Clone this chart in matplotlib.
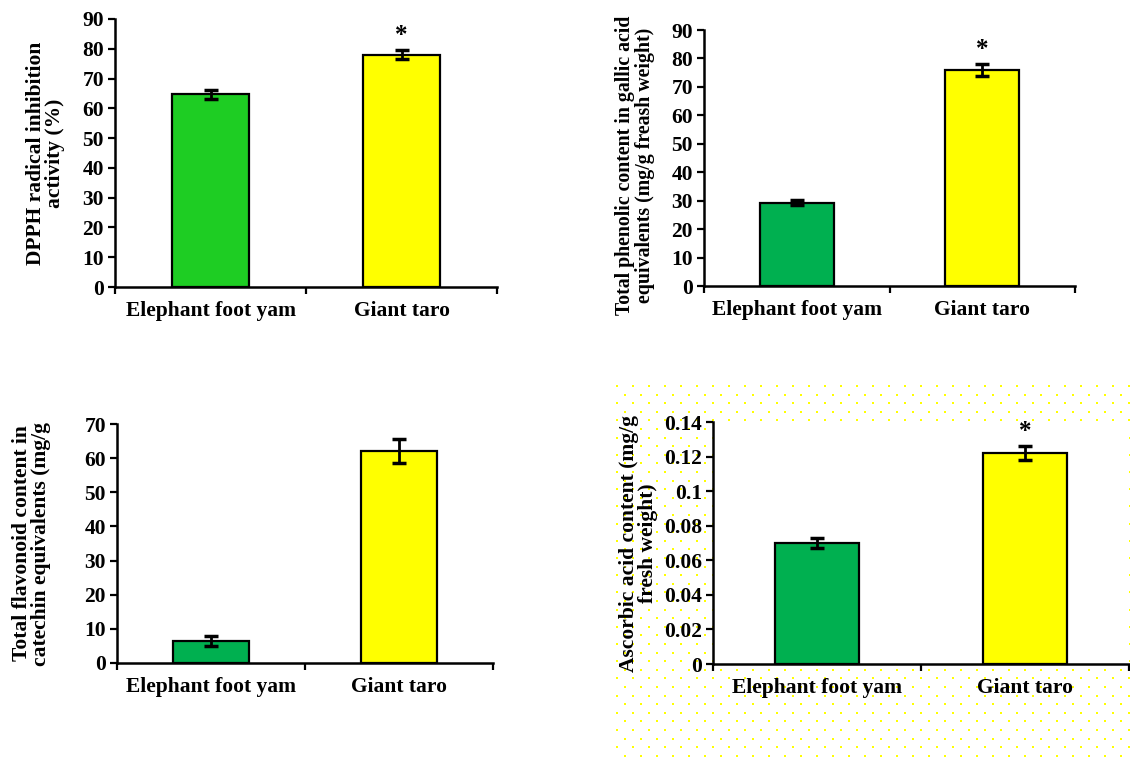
import matplotlib
matplotlib.use("Agg")
import matplotlib.pyplot as plt
import numpy as np

plt.rcParams['font.family'] = ['Liberation Serif', 'DejaVu Serif']
plt.rcParams['font.weight'] = 'bold'

categories = ["Elephant foot yam", "Giant taro"]

# values
dpph_mean = [64.7, 78.0]
dpph_err = [1.5, 1.5]
phenolic_mean = [29.3, 76.0]
phenolic_err = [0.9, 2.2]
flavonoid_mean = [6.5, 62.0]
flavonoid_err = [1.5, 3.5]
ascorbic_mean = [0.070, 0.122]
ascorbic_err = [0.003, 0.004]

W, H = 1130, 761
fig = plt.figure(figsize=(W / 100, H / 100), dpi=100)

# dotted yellow background behind the fourth chart (decoration only)
bg_ax = fig.add_axes([0, 0, 1, 1], zorder=-5)
bg_ax.set_xlim(0, W)
bg_ax.set_ylim(H, 0)
bg_ax.axis('off')
ys = np.arange(386, H, 8.6)
for i, yy in enumerate(ys):
    xs = np.arange(617 + (8 if i % 2 else 0), W, 16)
    bg_ax.scatter(xs, np.full(len(xs), yy), s=2.6, color='#ffff00', marker='s', linewidths=0)


def px_axes(left, right, top, bottom):
    return fig.add_axes([left / W, 1 - bottom / H, (right - left) / W, (bottom - top) / H])


def draw_panel(ax, means, errs, colors, ylim, yticks, yticklabels, ylabel, star, star_off,
               labelpad, labelsize=15.5):
    x = list(range(len(categories)))
    ax.bar(x, means, width=0.4, color=colors, edgecolor='black', linewidth=1.6, zorder=2)
    ax.errorbar(x, means, yerr=errs, fmt='none', ecolor='black', elinewidth=2,
                capsize=5, capthick=2.5, zorder=3)
    ax.set_xlim(-0.5, 1.5)
    ax.set_ylim(*ylim)
    ax.set_yticks(yticks)
    ax.set_yticklabels(yticklabels)
    ax.set_xticks([-0.5, 0.5, 1.5])
    ax.set_xticklabels([])
    ax.set_xticks(x, minor=True)
    ax.set_xticklabels(categories, minor=True)
    ax.tick_params(axis='x', which='minor', length=0, pad=10, labelsize=15.5)
    ax.tick_params(axis='x', which='major', direction='out', length=5, width=1.6)
    ax.tick_params(axis='y', direction='out', length=5, width=1.6, labelsize=15.5, pad=3)
    for s in ['top', 'right']:
        ax.spines[s].set_visible(False)
    for s in ['left', 'bottom']:
        ax.spines[s].set_linewidth(1.8)
    ax.set_ylabel(ylabel, fontsize=labelsize, fontweight='bold', labelpad=labelpad, linespacing=0.95)
    ax.set_facecolor('white')
    if star:
        ax.text(1, means[1] + errs[1] + star_off, '*', ha='center', va='bottom',
                fontsize=18, fontweight='bold')


ax1 = px_axes(115, 497, 19, 287)
draw_panel(ax1, dpph_mean, dpph_err, ['#1ecd23', '#ffff00'], (0, 90), range(0, 91, 10),
           [str(v) for v in range(0, 91, 10)],
           "DPPH radical inhibition\nactivity (%)", True, 1.0, 12)

ax2 = px_axes(704, 1075, 30, 286)
draw_panel(ax2, phenolic_mean, phenolic_err, ['#00b050', '#ffff00'], (0, 90), range(0, 91, 10),
           [str(v) for v in range(0, 91, 10)],
           "Total phenolic content in gallic acid\nequivalents (mg/g freash weight)", True, 1.0, 12,
           labelsize=14.3)
ax2.yaxis.set_label_coords(-0.133, 0.47)

ax3 = px_axes(117, 493, 424, 663)
draw_panel(ax3, flavonoid_mean, flavonoid_err, ['#00b050', '#ffff00'], (0, 70), range(0, 71, 10),
           [str(v) for v in range(0, 71, 10)],
           "Total flavonoid content in\ncatechin equivalents (mg/g", False, 1.0, 24)

asc_ticks = [0, 0.02, 0.04, 0.06, 0.08, 0.1, 0.12, 0.14]
ax4 = px_axes(713, 1129, 422, 664)
draw_panel(ax4, ascorbic_mean, ascorbic_err, ['#00b050', '#ffff00'], (0, 0.14), asc_ticks,
           ['0', '0.02', '0.04', '0.06', '0.08', '0.1', '0.12', '0.14'],
           "Ascorbic acid content (mg/g\nfresh weight)", True, 0.002, 4)

fig.savefig("out.png", dpi=100)
